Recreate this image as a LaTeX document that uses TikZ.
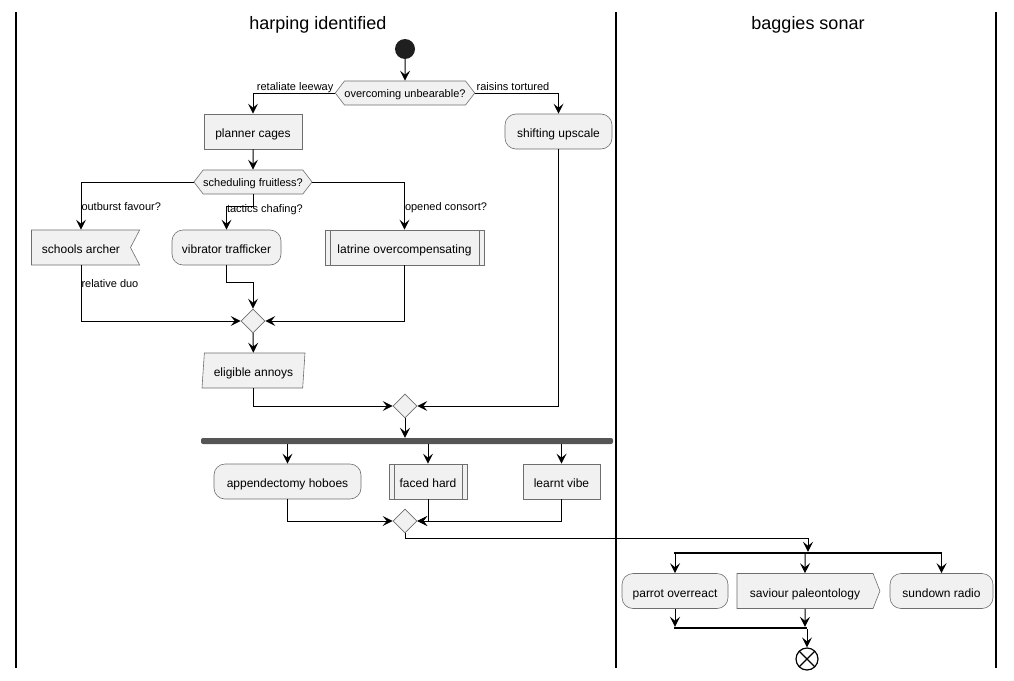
\documentclass[tikz,border=0pt]{standalone}
\usepackage{fontspec}
\setmainfont{Liberation Sans}
\usetikzlibrary{arrows.meta, positioning, shapes.geometric, shapes.symbols}
\definecolor{boxfill}{RGB}{241, 241, 241}
\definecolor{boxborder}{RGB}{110, 110, 110}
\definecolor{barfill}{RGB}{85, 85, 85}

\begin{document}
\begin{tikzpicture}[
    x=1pt, y=-1pt,
    every node/.style={font=\fontsize{12}{14}\selectfont},
    action/.style={rectangle, draw=boxborder, fill=boxfill, line width=0.6pt, minimum height=35pt, inner sep=0pt, text height=12pt, text depth=0pt},
    roundact/.style={action, rounded corners=11pt},
    subact/.style={action, path picture={\draw[boxborder, line width=0.6pt] ([xshift=5pt]path picture bounding box.north west) -- ([xshift=5pt]path picture bounding box.south west) ([xshift=-5pt]path picture bounding box.north east) -- ([xshift=-5pt]path picture bounding box.south east);}},
    sigact/.style={signal, draw=boxborder, fill=boxfill, line width=0.6pt, minimum height=35pt, inner ysep=0pt, text height=12pt, text depth=0pt},
    decide/.style={signal, signal to=west and east, signal pointer angle=105, draw=boxborder, fill=boxfill, line width=0.6pt, minimum height=24pt, inner xsep=0pt, inner ysep=0pt, text height=10pt, text depth=2pt, font=\fontsize{11}{13}\selectfont},
    merge/.style={diamond, draw=boxborder, fill=boxfill, line width=0.6pt, minimum width=24pt, minimum height=24pt, inner sep=0pt},
    forkbar/.style={rectangle, fill=barfill, rounded corners=2pt, minimum height=6pt, inner sep=0pt},
    syncbar/.style={rectangle, fill=black, minimum height=2pt, inner sep=0pt},
    startnode/.style={circle, fill=black!88, minimum size=20pt, inner sep=0pt},
    endnode/.style={circle, draw, line width=1.2pt, fill=white, minimum size=22pt, inner sep=0pt, path picture={\draw[line width=1.2pt] (path picture bounding box.south west) -- (path picture bounding box.north east) (path picture bounding box.north west) -- (path picture bounding box.south east);}},
    lbl/.style={font=\fontsize{11}{13}\selectfont, inner sep=1pt},
    lanetitle/.style={font=\fontsize{18}{22}\selectfont},
    lane/.style={line width=1.5pt},
    arrow/.style={-{Stealth[length=10pt, width=10pt, inset=4pt]}, line width=1pt}
]
    \useasboundingbox (0,0) rectangle (1014,680);

    % Swimlanes
    \draw[lane] (16,12) -- (16,668);
    \draw[lane] (616,12) -- (616,668);
    \draw[lane] (996,12) -- (996,668);
    \node[lanetitle] (lane1) at (318,25) {harping identified};
    \node[lanetitle] (lane2) at (808,25) {baggies sonar};

    % First decision
    \node[startnode] (start) at (405,49) {};
    \node[decide] (hex1) at (405,93) {overcoming unbearable?};
    \node[action, minimum width=98pt] (planner) at (253,131.5) {planner cages};
    \node[roundact, minimum width=107pt] (shifting) at (558.5,131.5) {shifting upscale};

    \draw[arrow] (start) -- (hex1);
    \draw[arrow] (hex1.west) -| node[lbl, pos=0, anchor=base east, yshift=2.5pt] {retaliate leeway} (planner.north);
    \draw[arrow] (hex1.east) -| node[lbl, pos=0, anchor=base west, yshift=2.5pt] {raisins tortured} (shifting.north);

    % Second decision
    \node[decide] (hex2) at (253,182) {scheduling fruitless?};
    \node[sigact, signal to=nowhere, signal from=east, signal pointer angle=125, inner xsep=10.5pt] (archer) at (81,247.5) {schools archer};
    \node[roundact, minimum width=109pt] (vibrator) at (226.5,247.5) {vibrator trafficker};
    \node[subact, minimum width=159pt] (latrine) at (404.5,247.5) {latrine overcompensating};
    \node[merge] (merge1) at (253,321) {};
    \node[action, trapezium, trapezium left angle=79, trapezium right angle=101, trapezium stretches body, minimum width=103pt] (eligible) at (253.5,370.5) {eligible annoys};

    \draw[arrow] (planner) -- (hex2);
    \draw[arrow] (hex2.west) -| node[lbl, pos=0.8, anchor=base west, inner sep=0pt] {outburst favour?} (archer.north);
    \draw[arrow] (hex2.south) -- ++(0,12) -| node[lbl, pos=0.5, anchor=base west, inner sep=0pt, yshift=-6pt] {tactics chafing?} (vibrator.north);
    \draw[arrow] (hex2.east) -| node[lbl, pos=0.8, anchor=base west, inner sep=0pt] {opened consort?} (latrine.north);
    \draw[arrow] (archer.south) |- node[lbl, pos=0.2, anchor=base west, inner sep=0pt] {relative duo} (merge1.west);
    \draw[arrow] (vibrator.south) -- ++(0,17) -| (merge1.north);
    \draw[arrow] (latrine.south) |- (merge1.east);
    \draw[arrow] (merge1) -- (eligible);

    % Merge and fork
    \node[merge] (merge2) at (405,406) {};
    \node[forkbar, minimum width=412pt] (fork1) at (407,441) {};
    \node[roundact, minimum width=147pt] (appendectomy) at (287.5,481.5) {appendectomy hoboes};
    \node[subact, minimum width=78pt] (faced) at (428,481.5) {faced hard};
    \node[action, minimum width=77pt] (learnt) at (561.5,481.5) {learnt vibe};
    \node[merge] (merge3) at (405,521) {};

    \draw[arrow] (eligible.south) |- (merge2.west);
    \draw[arrow] (shifting.south) |- (merge2.east);
    \draw[arrow] (merge2) -- (merge2 |- fork1.north);
    \foreach \n in {appendectomy, faced, learnt}
        \draw[arrow] (\n |- fork1.south) -- (\n);
    \draw[arrow] (appendectomy.south) |- (merge3.west);
    \draw[arrow] (faced.south) |- (merge3.east);
    \draw[arrow] (learnt.south) |- (merge3.east);

    % Second lane
    \node[syncbar, minimum width=268pt] (fork2) at (808,553) {};
    \node[roundact, minimum width=106pt] (parrot) at (675,591) {parrot overreact};
    \node[sigact, signal to=east, signal pointer angle=137, inner xsep=13pt] (saviour) at (805,591) {saviour paleontology};
    \node[roundact, minimum width=103pt] (sundown) at (941.5,591) {sundown radio};
    \node[syncbar, minimum width=133pt] (join2) at (740.5,628) {};
    \node[endnode] (stop) at (807,659) {};

    \draw[arrow] (merge3.south) -- ++(0,5) -| (fork2.north);
    \foreach \n in {parrot, saviour, sundown}
        \draw[arrow] (\n |- fork2.south) -- (\n);
    \draw[arrow] (parrot) -- (parrot |- join2.north);
    \draw[arrow] (saviour) -- (saviour |- join2.north);
    \draw[arrow] (stop |- join2.south) -- (stop);
\end{tikzpicture}
\end{document}
